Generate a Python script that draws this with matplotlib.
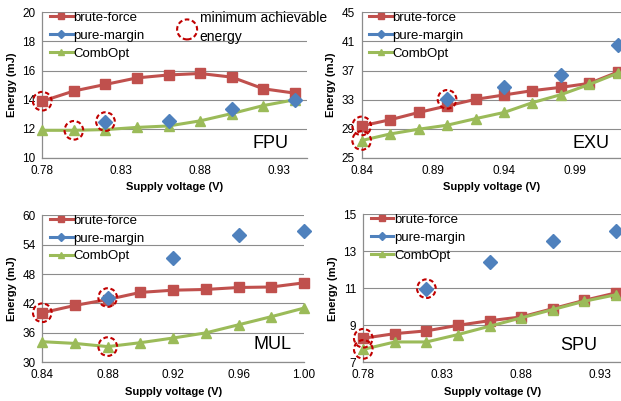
import numpy as np
import matplotlib
matplotlib.use("Agg")
import matplotlib.pyplot as plt

plt.rcParams['font.family'] = ['Liberation Sans', 'DejaVu Sans']

nan = np.nan

# ---------------- data ----------------
fpu_v = [0.78, 0.80, 0.82, 0.84, 0.86, 0.88, 0.90, 0.92, 0.94]
fpu_brute = [13.9, 14.6, 15.05, 15.5, 15.7, 15.8, 15.55, 14.75, 14.45]
fpu_pure = [nan, nan, 12.5, nan, 12.55, nan, 13.35, nan, 13.95]
fpu_comb = [11.9, 11.9, 11.95, 12.1, 12.2, 12.55, 13.05, 13.6, 14.0]
fpu_min_v = [0.78, 0.80, 0.82]
fpu_min_e = [13.9, 11.9, 12.5]

exu_v = [0.84, 0.86, 0.88, 0.90, 0.92, 0.94, 0.96, 0.98, 1.00, 1.02]
exu_brute = [29.4, 30.25, 31.25, 32.15, 33.05, 33.65, 34.25, 34.7, 35.25, 36.8]
exu_pure = [nan, nan, nan, 33.05, nan, 34.7, nan, 36.4, nan, 40.45]
exu_comb = [27.4, 28.3, 28.95, 29.5, 30.4, 31.25, 32.6, 33.7, 35.1, 36.65]
exu_min_v = [0.84, 0.84, 0.90]
exu_min_e = [29.4, 27.4, 33.05]

mul_v = [0.84, 0.86, 0.88, 0.90, 0.92, 0.94, 0.96, 0.98, 1.00]
mul_brute = [40.1, 41.6, 42.8, 44.25, 44.7, 44.85, 45.25, 45.35, 46.2]
mul_pure = [nan, nan, 43.2, nan, 51.2, nan, 55.9, nan, 56.75]
mul_comb = [34.2, 33.85, 33.2, 34.0, 34.95, 36.0, 37.65, 39.3, 41.05]
mul_min_v = [0.84, 0.88, 0.88]
mul_min_e = [40.1, 43.2, 33.2]

spu_v = [0.78, 0.80, 0.82, 0.84, 0.86, 0.88, 0.90, 0.92, 0.94]
spu_brute = [8.3, 8.55, 8.7, 9.0, 9.25, 9.45, 9.9, 10.35, 10.75]
spu_pure = [nan, nan, 10.98, nan, 12.42, nan, 13.58, nan, 14.12]
spu_comb = [7.7, 8.1, 8.1, 8.5, 8.95, 9.4, 9.85, 10.3, 10.65]
spu_min_v = [0.78, 0.78, 0.82]
spu_min_e = [8.3, 7.7, 10.98]

panel_names = ["FPU", "EXU", "MUL", "SPU"]
series_labels = ["brute-force", "pure-margin", "CombOpt"]
min_label = "minimum achievable\nenergy"

fpu_yticks = [10, 12, 14, 16, 18, 20]
exu_yticks = [25, 29, 33, 37, 41, 45]
mul_yticks = [30, 36, 42, 48, 54, 60]
spu_yticks = [7, 9, 11, 13, 15]
fpu_xticks = [0.78, 0.83, 0.88, 0.93]
exu_xticks = [0.84, 0.89, 0.94, 0.99]
mul_xticks = [0.84, 0.88, 0.92, 0.96, 1.00]
spu_xticks = [0.78, 0.83, 0.88, 0.93]

# ---------------- style ----------------
RED = '#C0504D'
BLUE = '#4F81BD'
GREEN = '#9BBB59'
CIRC = '#C00000'
GRID = '#8C8C8C'

W, H = 621, 401
fig = plt.figure(figsize=(W / 100, H / 100), dpi=100)

panels = [
    dict(rect=[0.0681, 0.606, 0.426, 0.3633], v=fpu_v, b=fpu_brute, p=fpu_pure, c=fpu_comb,
         mv=fpu_min_v, me=fpu_min_e, yt=fpu_yticks, xt=fpu_xticks, xlim=(0.78, 0.9475),
         name=panel_names[0], npos=(0.932, 0.04)),
    dict(rect=[0.5824, 0.606, 0.4176, 0.3633], v=exu_v, b=exu_brute, p=exu_pure, c=exu_comb,
         mv=exu_min_v, me=exu_min_e, yt=exu_yticks, xt=exu_xticks, xlim=(0.84, 1.0222),
         name=panel_names[1], npos=(0.957, 0.04)),
    dict(rect=[0.0681, 0.0965, 0.4214, 0.367], v=mul_v, b=mul_brute, p=mul_pure, c=mul_comb,
         mv=mul_min_v, me=mul_min_e, yt=mul_yticks, xt=mul_xticks, xlim=(0.84, 1.0),
         name=panel_names[2], npos=(0.953, 0.061)),
    dict(rect=[0.585, 0.0965, 0.415, 0.369], v=spu_v, b=spu_brute, p=spu_pure, c=spu_comb,
         mv=spu_min_v, me=spu_min_e, yt=spu_yticks, xt=spu_xticks, xlim=(0.78, 0.9433),
         name=panel_names[3], npos=(0.906, 0.056)),
]

circ_dash = (0, (2.2, 1.3))
circ_size = 180

for pn in panels:
    ax = fig.add_axes(pn['rect'])
    ax.plot(pn['v'], pn['b'], color=RED, lw=2.2, marker='s', ms=7, label=series_labels[0],
            clip_on=False, zorder=3)
    ax.plot(pn['v'], pn['p'], color=BLUE, lw=2.2, marker='D', ms=7.5, label=series_labels[1],
            clip_on=False, zorder=4)
    ax.plot(pn['v'], pn['c'], color=GREEN, lw=2.2, marker='^', ms=7.5, label=series_labels[2],
            clip_on=False, zorder=3)
    ax.scatter(pn['mv'], pn['me'], s=circ_size, facecolors='none', edgecolors=CIRC,
               linewidths=1.5, linestyles=[circ_dash], zorder=6, clip_on=False)
    ax.set_xlim(*pn['xlim'])
    ax.set_ylim(pn['yt'][0], pn['yt'][-1])
    ax.set_yticks(pn['yt'])
    ax.set_xticks(pn['xt'])
    ax.set_xticklabels([f"{t:.2f}" for t in pn['xt']])
    ax.tick_params(length=0, labelsize=8.5, pad=5)
    ax.grid(axis='y', color=GRID, lw=0.8)
    ax.set_axisbelow(True)
    for s in ['top', 'right']:
        ax.spines[s].set_visible(False)
    for s in ['left', 'bottom']:
        ax.spines[s].set_color(GRID)
        ax.spines[s].set_linewidth(0.9)
    ax.set_xlabel("Supply voltage (V)", fontsize=8, fontweight='bold', labelpad=4)
    ax.set_ylabel("Energy (mJ)", fontsize=8, fontweight='bold', labelpad=4)
    ax.text(pn['npos'][0], pn['npos'][1], pn['name'], transform=ax.transAxes,
            ha='right', va='bottom', fontsize=13)
    ax.legend(loc='upper left', bbox_to_anchor=(0.03, 1.005), frameon=False, fontsize=9.5,
              handlelength=1.7, handletextpad=0.05, labelspacing=0.43, borderpad=0,
              borderaxespad=0, markerscale=0.55)
    pn['ax'] = ax

# legend for the dashed circle marker
ax0 = panels[0]['ax']
sc_handle = ax0.scatter([], [], s=circ_size * 1.15, facecolors='none', edgecolors=CIRC,
                        linewidths=1.5, linestyles=[circ_dash])
leg = fig.legend([sc_handle], [min_label], loc='upper left', bbox_to_anchor=(0.27, 1.0),
                 frameon=False, fontsize=10, handletextpad=0.3, borderpad=0.3,
                 scatterpoints=1, handlelength=1.2)
for t in leg.get_texts():
    t.set_linespacing(1.45)

fig.savefig("out.png", dpi=100)
